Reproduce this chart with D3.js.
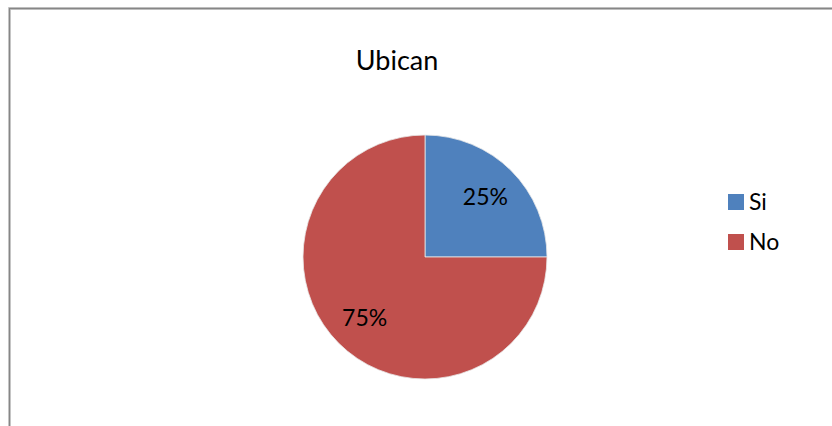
<!DOCTYPE html>
<html>
<head>
<meta charset="utf-8">
<script src="https://cdn.jsdelivr.net/npm/d3@7"></script>
<style>
  body { margin: 0; background: #fff; }
  svg { display: block; }
  text { font-family: "Lato", "Open Sans", sans-serif; fill: #000; }
</style>
</head>
<body>
<svg id="chart"></svg>
<script>
// chart data
const categories = ["Si", "No"];
const values = [25, 75];
const colors = ["#4F81BD", "#C0504D"];
const title = "Ubican";

const width = 832, height = 426;
const svg = d3.select("#chart").attr("width", width).attr("height", height);

// frame (only top and left edges are visible in the crop)
svg.append("path")
    .attr("d", `M9.5,${height} V8.5 H${width}`)
    .attr("fill", "none")
    .attr("stroke", "#d0d0d0")
    .attr("stroke-width", 3);
svg.append("path")
    .attr("d", `M9.5,${height} V8.5 H${width}`)
    .attr("fill", "none")
    .attr("stroke", "#868686")
    .attr("stroke-width", 1.3);

svg.append("text")
    .attr("x", 397)
    .attr("y", 70)
    .attr("text-anchor", "middle")
    .style("font-size", "27px")
    .text(title);

const cx = 425, cy = 257, radius = 122;

const pie = d3.pie().sort(null).value(d => d.value);
const arc = d3.arc().innerRadius(0).outerRadius(radius);
const labelArc = d3.arc().innerRadius(radius * 0.7).outerRadius(radius * 0.7);

const data = categories.map((c, i) => ({ name: c, value: values[i] }));
const total = d3.sum(values);

const g = svg.append("g").attr("transform", `translate(${cx},${cy})`);

g.selectAll("path.slice")
    .data(pie(data))
    .join("path")
    .attr("class", "slice")
    .attr("d", arc)
    .attr("fill", (d, i) => colors[i])
    .attr("stroke", "#e8e8e8")
    .attr("stroke-width", 0.8);

g.selectAll("text.label")
    .data(pie(data))
    .join("text")
    .attr("class", "label")
    .attr("transform", d => `translate(${labelArc.centroid(d)})`)
    .attr("text-anchor", "middle")
    .attr("dy", "0.38em")
    .style("font-size", "23px")
    .text(d => d3.format(".0%")(d.data.value / total));

// legend
const legend = svg.append("g").attr("transform", "translate(728,194)");
const item = legend.selectAll("g")
    .data(categories)
    .join("g")
    .attr("transform", (d, i) => `translate(0,${i * 40})`);

item.append("rect")
    .attr("width", 16)
    .attr("height", 16)
    .attr("fill", (d, i) => colors[i]);

item.append("text")
    .attr("x", 21)
    .attr("y", 8)
    .attr("dy", "0.36em")
    .style("font-size", "23px")
    .text(d => d);
</script>
</body>
</html>
